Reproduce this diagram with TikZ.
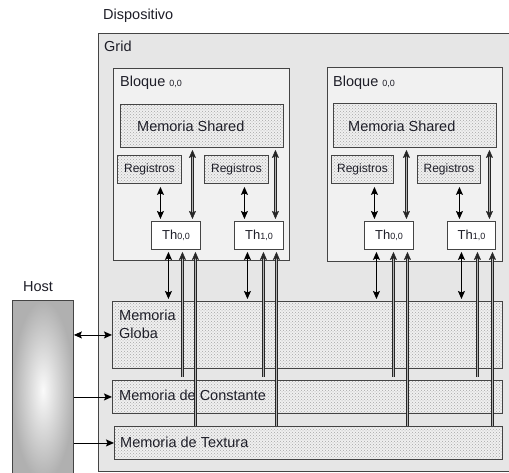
\documentclass[tikz,border=0pt]{standalone}
\usepackage{fontspec}
\setmainfont{Liberation Sans}
\usetikzlibrary{arrows.meta,patterns}
\definecolor{gridfill}{HTML}{E6E6E6}
\definecolor{blockfill}{HTML}{F1F1F1}
\definecolor{edgec}{HTML}{444444}
\definecolor{textc}{HTML}{1E1E28}
\begin{document}
\begin{tikzpicture}[x=1pt,y=-1pt,
  box/.style={draw=edgec, line width=0.9pt, inner sep=0pt, anchor=north west},
  memo/.style={box, preaction={fill=gray!12}, pattern=crosshatch dots, pattern color=gray!70},
  thbox/.style={box, fill=white, font=\fontsize{13}{15}\selectfont, text=textc},
  regbox/.style={memo, font=\fontsize{12}{14}\selectfont, text=textc},
  txt/.style={font=\fontsize{14.5}{17}\selectfont, text=textc, inner sep=0pt, anchor=base west},
  dbl/.style={{Stealth[length=8pt,width=7pt,inset=1.5pt]}-{Stealth[length=8pt,width=7pt,inset=1.5pt]}, line width=1pt, black},
  gline/.style={draw=black!85, line width=0.55pt, double=gray!60, double distance=1.1pt},
  gdbl/.style={gline, {Stealth[length=8pt,width=7pt,inset=1.5pt]}-{Stealth[length=8pt,width=7pt,inset=1.5pt]}},
  gup/.style={gline, {Stealth[length=8pt,width=7pt,inset=1.5pt]}-},
  harr/.style={-{Stealth[length=8pt,width=7pt,inset=1.5pt]}, line width=0.9pt, black},
]
\useasboundingbox (0,0) rectangle (509,473);
\fill[white] (0,0) rectangle (509,473);

% Grid
\node[box, fill=gridfill, minimum width=414pt, minimum height=438pt] (grid) at (98,33) {};
\node[txt] (disp) at (103,20) {Dispositivo};
\node[txt] (gridlbl) at (104,52) {Grid};

% Host
\node[box, shading=radial, inner color=white!96!gray, outer color=gray!62, minimum width=61pt, minimum height=180pt] (host) at (12,300) {};
\node[txt] (hostlbl) at (23,292) {Host};

% Blocks
\node[box, fill=blockfill, minimum width=176pt, minimum height=192pt] (b1) at (113,68) {};
\node[box, fill=blockfill, minimum width=175pt, minimum height=194pt] (b2) at (327,67) {};
\node[txt] (b1lbl) at (120,87) {Bloque {\fontsize{9}{10}\selectfont 0,0}};
\node[txt] (b2lbl) at (333,87) {Bloque {\fontsize{9}{10}\selectfont 0,0}};

% Shared memories
\node[memo, minimum width=163pt, minimum height=43pt] (ms1) at (120,104) {};
\node[memo, minimum width=163pt, minimum height=44pt] (ms2) at (333,103) {};
\node[txt] (ms1lbl) at (137,132) {Memoria Shared};
\node[txt] (ms2lbl) at (348,132) {Memoria Shared};

% Registers
\node[regbox, minimum width=64pt, minimum height=28pt] (r11) at (117,155) {Registros};
\node[regbox, minimum width=64pt, minimum height=28pt] (r12) at (204,155) {Registros};
\node[regbox, minimum width=62pt, minimum height=28pt] (r21) at (331,155) {Registros};
\node[regbox, minimum width=63pt, minimum height=28pt] (r22) at (417,155) {Registros};

% Threads
\node[thbox, minimum width=49pt, minimum height=28pt] (t100) at (151,221) {Th{\fontsize{9}{10}\selectfont 0,0}};
\node[thbox, minimum width=49pt, minimum height=28pt] (t110) at (234,221) {Th{\fontsize{9}{10}\selectfont 1,0}};
\node[thbox, minimum width=49pt, minimum height=28pt] (t200) at (364,221) {Th{\fontsize{9}{10}\selectfont 0,0}};
\node[thbox, minimum width=48pt, minimum height=28pt] (t210) at (447,221) {Th{\fontsize{9}{10}\selectfont 1,0}};

% Global memories
\node[memo, minimum width=390pt, minimum height=67pt] (glob) at (112,301) {};
\node[memo, minimum width=390pt, minimum height=33pt] (cons) at (112,380) {};
\node[memo, minimum width=388pt, minimum height=33pt] (text) at (114,426) {};
\node[txt] (glob1) at (119,320) {Memoria};
\node[txt] (glob2) at (119,338) {Globa};
\node[txt] (conslbl) at (119,400) {Memoria de Constante};
\node[txt] (textlbl) at (120,447) {Memoria de Textura};

% Arrows inside blocks
\foreach \t/\r/\a in {t100/r11/-15.5, t110/r12/-14.5, t200/r21/-14.5, t210/r22/-12}{
  \draw[dbl, shorten <=3pt, shorten >=2pt] ([xshift=\a pt]\t.north |- \r.south) -- ([xshift=\a pt]\t.north);
}
\foreach \t/\m/\b in {t100/ms1/16.5, t110/ms1/16.5, t200/ms2/17.5, t210/ms2/18}{
  \draw[gdbl, shorten <=2pt, shorten >=2pt] ([xshift=\b pt]\t.north |- \m.south) -- ([xshift=\b pt]\t.north);
}

% Arrows below threads
\foreach \t/\a/\c/\d in {t100/-7.5/6.5/19.5, t110/-11.5/4.5/17.5, t200/-12.5/4.5/18.5, t210/-10/6/21}{
  \draw[gup, shorten <=2pt, shorten >=3pt] ([xshift=\c pt]\t.south) -- ([xshift=\c pt]\t.south |- cons.north);
  \draw[gup, shorten <=2pt] ([xshift=\d pt]\t.south) -- ([xshift=\d pt]\t.south |- text.north);
  \draw[dbl, shorten <=2pt, shorten >=2pt] ([xshift=\a pt]\t.south) -- ([xshift=\a pt]\t.south |- glob.north);
}

% Host arrows
\draw[dbl, line width=0.9pt] (host.east |- glob.west) -- (glob.west);
\draw[harr] (host.east |- cons.west) -- (cons.west);
\draw[harr] (host.east |- text.west) -- (text.west);
\end{tikzpicture}
\end{document}
